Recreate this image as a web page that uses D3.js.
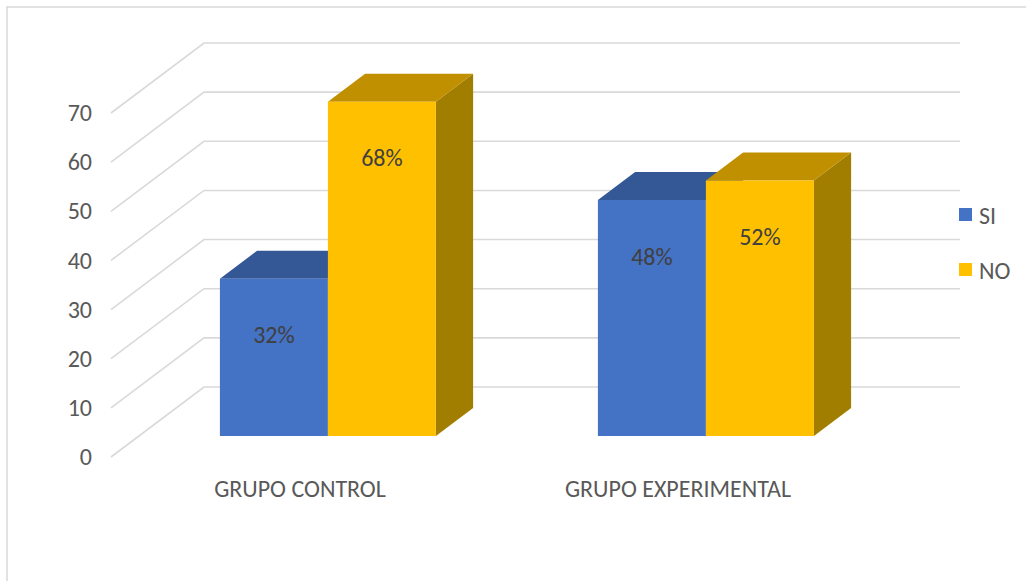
<!DOCTYPE html>
<html>
<head>
<meta charset="utf-8">
<script src="https://cdn.jsdelivr.net/npm/d3@7"></script>
<style>
  html, body { margin: 0; padding: 0; background: #fff; }
  svg { display: block; font-family: Carlito, Calibri, Lato, "Open Sans", sans-serif; }
</style>
</head>
<body>
<svg id="chart" width="1026" height="581"></svg>
<script>
// Survey results per group (percent)
const categories = ["GRUPO CONTROL", "GRUPO EXPERIMENTAL"];
const seriesNames = ["SI", "NO"];
const siValues = [32, 48];
const noValues = [68, 52];
const yTickValues = [0, 10, 20, 30, 40, 50, 60, 70];

const seriesValues = { SI: siValues, NO: noValues };
const colors = {
  SI: { front: "#4472C4", top: "#345895", side: "#2F5597" },
  NO: { front: "#FFC000", top: "#C19000", side: "#A17D00" }
};
const FONT_SIZE = 24;

const svg = d3.select("#chart");

// Outer chart frame
svg.append("rect")
  .attr("x", 7).attr("y", 7)
  .attr("width", 1040).attr("height", 600)
  .attr("fill", "#fff")
  .attr("stroke", "#D9D9D9").attr("stroke-width", 1.5);

// Oblique projection: depth 0 = front plane, depth 1 = back wall
const DX = 93, DY = -70;
const proj = (x, y, d) => [x + d * DX, y + d * DY];

// Value scale on the front plane
const y = d3.scaleLinear().domain([0, 70]).range([457, 113]);

// Category bands on the front plane
const x0 = d3.scaleBand()
  .domain(categories)
  .range([111, 867])
  .paddingInner(0.4286)
  .paddingOuter(0.2143);

const x1 = d3.scaleBand()
  .domain(seriesNames)
  .range([0, x0.bandwidth()]);

// Bars occupy the middle slice of the depth
const dFront = 0.3, dBack = 0.7;

// Grid: side wall diagonals and back wall lines
const grid = svg.append("g")
  .attr("stroke", "#D9D9D9").attr("stroke-width", 1.6).attr("fill", "none");

yTickValues.forEach(t => {
  const a = proj(x0.range()[0], y(t), 0);
  const b = proj(x0.range()[0], y(t), 1);
  const c = proj(x0.range()[1], y(t), 1);
  grid.append("polyline")
    .attr("points", [a, b, c].map(p => p.join(",")).join(" "));
});

// Y axis labels at the front edge of the side wall
const yAxis = d3.axisLeft(y).tickValues(yTickValues).tickSize(0).tickPadding(0);
const yAxisG = svg.append("g")
  .attr("transform", "translate(92,0)")
  .call(yAxis);
yAxisG.select(".domain").remove();
yAxisG.selectAll("text")
  .attr("fill", "#595959")
  .attr("font-size", FONT_SIZE)
  .attr("font-family", "Carlito, Calibri, Lato, sans-serif");

// 3D bars
const poly = pts => pts.map(p => p.join(",")).join(" ");
const barsG = svg.append("g");
const labelsG = svg.append("g");

categories.forEach((cat, i) => {
  seriesNames.forEach(s => {
    const v = seriesValues[s][i];
    const xl = x0(cat) + x1(s);
    const xr = xl + x1.bandwidth();
    const y0 = y(0), yv = y(v);
    const c = colors[s];
    const g = barsG.append("g");

    // right side
    g.append("polygon")
      .attr("points", poly([proj(xr, y0, dFront), proj(xr, y0, dBack), proj(xr, yv, dBack), proj(xr, yv, dFront)]))
      .attr("fill", c.side);
    // top
    g.append("polygon")
      .attr("points", poly([proj(xl, yv, dFront), proj(xr, yv, dFront), proj(xr, yv, dBack), proj(xl, yv, dBack)]))
      .attr("fill", c.top);
    // front
    g.append("polygon")
      .attr("points", poly([proj(xl, y0, dFront), proj(xr, y0, dFront), proj(xr, yv, dFront), proj(xl, yv, dFront)]))
      .attr("fill", c.front);

    // value label on the front face
    const [cx, cy] = proj((xl + xr) / 2, yv, dFront);
    labelsG.append("text")
      .attr("x", cx)
      .attr("y", cy + 56)
      .attr("text-anchor", "middle")
      .attr("dominant-baseline", "central")
      .attr("fill", "#404040")
      .attr("font-size", FONT_SIZE)
      .text(v + "%");
  });
});

// Category labels under the floor
svg.append("g")
  .selectAll("text")
  .data(categories)
  .join("text")
  .attr("x", d => x0(d) + x0.bandwidth() / 2)
  .attr("y", 497)
  .attr("text-anchor", "middle")
  .attr("fill", "#595959")
  .attr("font-size", FONT_SIZE)
  .text(d => d);

// Legend
const legend = svg.append("g")
  .selectAll("g")
  .data(seriesNames)
  .join("g")
  .attr("transform", (d, i) => `translate(959,${208 + i * 55})`);

legend.append("rect")
  .attr("width", 13).attr("height", 13)
  .attr("fill", d => colors[d].front);

legend.append("text")
  .attr("x", 20).attr("y", 7)
  .attr("dominant-baseline", "central")
  .attr("fill", "#595959")
  .attr("font-size", FONT_SIZE)
  .text(d => d);
</script>
</body>
</html>
